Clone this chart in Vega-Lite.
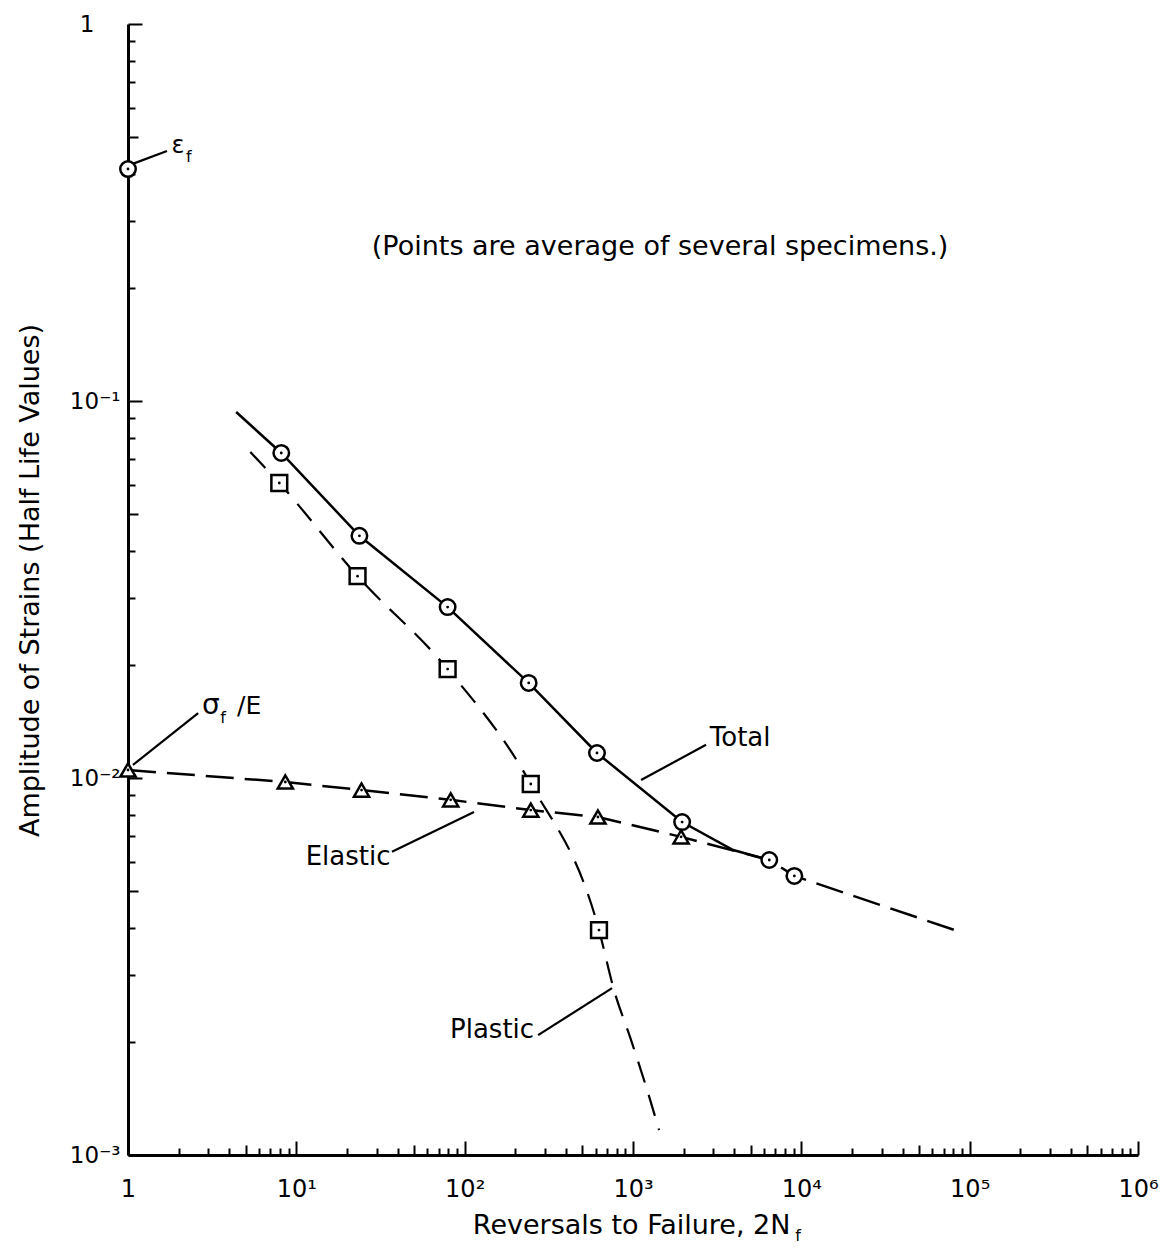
{
  "$schema": "https://vega.github.io/schema/vega-lite/v6.json",
  "width": 1010,
  "height": 1131,
  "autosize": "none",
  "padding": {"left": 128, "top": 24, "right": 25, "bottom": 94},
  "background": "white",
  "config": {
    "view": {"stroke": null},
    "font": "DejaVu Sans",
    "axis": {
      "domainColor": "black",
      "domainWidth": 3,
      "tickColor": "black",
      "tickWidth": 2,
      "labelColor": "black",
      "titleColor": "black",
      "labelFont": "DejaVu Sans",
      "titleFont": "DejaVu Sans",
      "grid": false,
      "labelOverlap": false,
      "labelFlush": false
    }
  },
  "datasets": {
    "total": [
      {"x": 4.39, "y": 0.0935},
      {"x": 8.14, "y": 0.0728},
      {"x": 23.7, "y": 0.0439},
      {"x": 79.2, "y": 0.0284},
      {"x": 240, "y": 0.01787},
      {"x": 611, "y": 0.01165},
      {"x": 1958, "y": 0.00764},
      {"x": 3935, "y": 0.00644},
      {"x": 6450, "y": 0.00606}
    ],
    "plastic": [
      {"x": 5.33, "y": 0.0732},
      {"x": 7.92, "y": 0.0606},
      {"x": 23.1, "y": 0.0343},
      {"x": 79.2, "y": 0.01945},
      {"x": 247, "y": 0.00964},
      {"x": 628, "y": 0.00395},
      {"x": 771, "y": 0.00274},
      {"x": 973, "y": 0.00202},
      {"x": 1212, "y": 0.00149},
      {"x": 1428, "y": 0.001165}
    ],
    "elastic": [
      {"x": 1, "y": 0.0105},
      {"x": 8.6, "y": 0.00976},
      {"x": 24.4, "y": 0.00929},
      {"x": 82.6, "y": 0.00875},
      {"x": 247, "y": 0.00822},
      {"x": 619, "y": 0.00788},
      {"x": 1931, "y": 0.00698},
      {"x": 6450, "y": 0.00606},
      {"x": 9090, "y": 0.0055},
      {"x": 81400, "y": 0.00395}
    ],
    "circles": [
      {"x": 1, "y": 0.4124},
      {"x": 8.14, "y": 0.0728},
      {"x": 23.7, "y": 0.0439},
      {"x": 79.2, "y": 0.0284},
      {"x": 240, "y": 0.01787},
      {"x": 611, "y": 0.01165},
      {"x": 1958, "y": 0.00764},
      {"x": 6450, "y": 0.00606},
      {"x": 9090, "y": 0.0055}
    ],
    "squares": [
      {"x": 7.92, "y": 0.0606},
      {"x": 23.1, "y": 0.0343},
      {"x": 79.2, "y": 0.01945},
      {"x": 247, "y": 0.00964},
      {"x": 628, "y": 0.00395}
    ],
    "triangles": [
      {"x": 1, "y": 0.0105},
      {"x": 8.6, "y": 0.00976},
      {"x": 24.4, "y": 0.00929},
      {"x": 82.6, "y": 0.00875},
      {"x": 247, "y": 0.00822},
      {"x": 619, "y": 0.00788},
      {"x": 1931, "y": 0.00698}
    ],
    "leaders": [
      {"id": "eps", "x": 1.056, "y": 0.425},
      {"id": "eps", "x": 1.705, "y": 0.4604},
      {"id": "sig", "x": 1.07, "y": 0.01083},
      {"id": "sig", "x": 2.61, "y": 0.01487},
      {"id": "total", "x": 1117, "y": 0.00988},
      {"id": "total", "x": 2718, "y": 0.01225},
      {"id": "elastic", "x": 37.0, "y": 0.00637},
      {"id": "elastic", "x": 113.7, "y": 0.00813},
      {"id": "plastic", "x": 273, "y": 0.00208},
      {"id": "plastic", "x": 751, "y": 0.00277}
    ],
    "labels": [
      {"x": 1449, "y": 0.256, "text": "(Points are average of several specimens.)", "fs": 27},
      {"x": 1.98, "y": 0.4747, "text": "ε", "fs": 24},
      {"x": 3.11, "y": 0.01552, "text": "σ", "fs": 28},
      {"x": 5.24, "y": 0.01552, "text": "/E", "fs": 25},
      {"x": 4330, "y": 0.01277, "text": "Total", "fs": 26},
      {"x": 20.3, "y": 0.00617, "text": "Elastic", "fs": 26},
      {"x": 145.5, "y": 0.002146, "text": "Plastic", "fs": 26}
    ],
    "subs": [
      {"x": 2.3, "y": 0.4438, "text": "f"},
      {"x": 3.67, "y": 0.01443, "text": "f"},
      {"x": 9570, "y": 0.00061, "text": "f"}
    ]
  },
  "encoding": {
    "x": {
      "field": "x",
      "type": "quantitative",
      "scale": {"type": "log", "domain": [1, 1000000], "nice": false},
      "axis": {
        "title": "Reversals to Failure, 2N",
        "titleFontSize": 27,
        "titleFontWeight": "normal",
        "titleAlign": "right",
        "titleBaseline": "middle",
        "titleX": 662,
        "titleY": 70,
        "labelFontSize": 24,
        "labelPadding": 36,
        "values": [1,2,3,4,5,6,7,8,9,10,20,30,40,50,60,70,80,90,100,200,300,400,500,600,700,800,900,1000,2000,3000,4000,5000,6000,7000,8000,9000,10000,20000,30000,40000,50000,60000,70000,80000,90000,100000,200000,300000,400000,500000,600000,700000,800000,900000,1000000],
        "labelExpr": "datum.value==1?'1':datum.value==10?'10¹':datum.value==100?'10²':datum.value==1000?'10³':datum.value==10000?'10⁴':datum.value==100000?'10⁵':datum.value==1000000?'10⁶':''",
        "tickSize": {
          "condition": [
            {"test": "abs(log(datum.value)/LN10 - round(log(datum.value)/LN10)) < 0.0001", "value": -14},
            {"test": "abs(log(datum.value/5)/LN10 - round(log(datum.value/5)/LN10)) < 0.0001", "value": -10}
          ],
          "value": -7
        }
      }
    },
    "y": {
      "field": "y",
      "type": "quantitative",
      "scale": {"type": "log", "domain": [0.001, 1], "nice": false},
      "axis": {
        "title": "Amplitude of Strains (Half Life Values)",
        "titleFontSize": 27,
        "titleFontWeight": "normal",
        "titleAlign": "center",
        "titleBaseline": "middle",
        "titleAngle": -90,
        "titleX": -98,
        "titleY": 556,
        "labelFontSize": 23,
        "labelPadding": {"condition": {"test": "datum.value==1", "value": 48}, "value": 22},
        "values": [0.001,0.002,0.003,0.004,0.005,0.006,0.007,0.008,0.009,0.01,0.02,0.03,0.04,0.05,0.06,0.07,0.08,0.09,0.1,0.2,0.3,0.4,0.5,0.6,0.7,0.8,0.9,1],
        "labelExpr": "datum.value==1?'1':datum.value==0.1?'10⁻¹':datum.value==0.01?'10⁻²':datum.value==0.001?'10⁻³':''",
        "tickSize": {
          "condition": [
            {"test": "abs(log(datum.value)/LN10 - round(log(datum.value)/LN10)) < 0.0001", "value": -14},
            {"test": "abs(log(datum.value/5)/LN10 - round(log(datum.value/5)/LN10)) < 0.0001", "value": -10}
          ],
          "value": -7
        }
      }
    }
  },
  "layer": [
    {
      "data": {"name": "total"},
      "mark": {"type": "line", "color": "black", "strokeWidth": 2.5, "interpolate": "linear"}
    },
    {
      "data": {"name": "plastic"},
      "mark": {"type": "line", "color": "black", "strokeWidth": 2.2, "strokeDash": [22, 13], "interpolate": "monotone"}
    },
    {
      "data": {"name": "elastic"},
      "mark": {"type": "line", "color": "black", "strokeWidth": 2.5, "strokeDash": [28, 11], "interpolate": "linear"}
    },
    {
      "data": {"name": "leaders"},
      "mark": {"type": "line", "color": "black", "strokeWidth": 2.2},
      "encoding": {"detail": {"field": "id"}}
    },
    {
      "data": {"name": "circles"},
      "mark": {"type": "point", "shape": "circle", "size": 240, "filled": false, "fill": "white", "fillOpacity": 1, "stroke": "black", "strokeWidth": 2.5, "opacity": 1}
    },
    {
      "data": {"name": "squares"},
      "mark": {"type": "point", "shape": "square", "size": 250, "filled": false, "fill": "white", "fillOpacity": 1, "stroke": "black", "strokeWidth": 2.5, "opacity": 1}
    },
    {
      "data": {"name": "triangles"},
      "mark": {"type": "point", "shape": "triangle-up", "size": 230, "filled": false, "fill": "white", "fillOpacity": 1, "stroke": "black", "strokeWidth": 2.5, "opacity": 1}
    },
    {
      "data": {"name": "circles"},
      "mark": {"type": "circle", "size": 8, "color": "black", "opacity": 1}
    },
    {
      "data": {"name": "squares"},
      "mark": {"type": "circle", "size": 8, "color": "black", "opacity": 1}
    },
    {
      "data": {"name": "triangles"},
      "mark": {"type": "circle", "size": 8, "color": "black", "opacity": 1}
    },
    {
      "data": {"name": "labels"},
      "mark": {"type": "text", "color": "black", "align": "center", "baseline": "middle", "font": "DejaVu Sans"},
      "encoding": {
        "text": {"field": "text"},
        "size": {"field": "fs", "type": "quantitative", "scale": null}
      }
    },
    {
      "data": {"name": "subs"},
      "mark": {"type": "text", "color": "black", "align": "center", "baseline": "middle", "fontSize": 16, "font": "DejaVu Sans"},
      "encoding": {"text": {"field": "text"}}
    }
  ]
}
